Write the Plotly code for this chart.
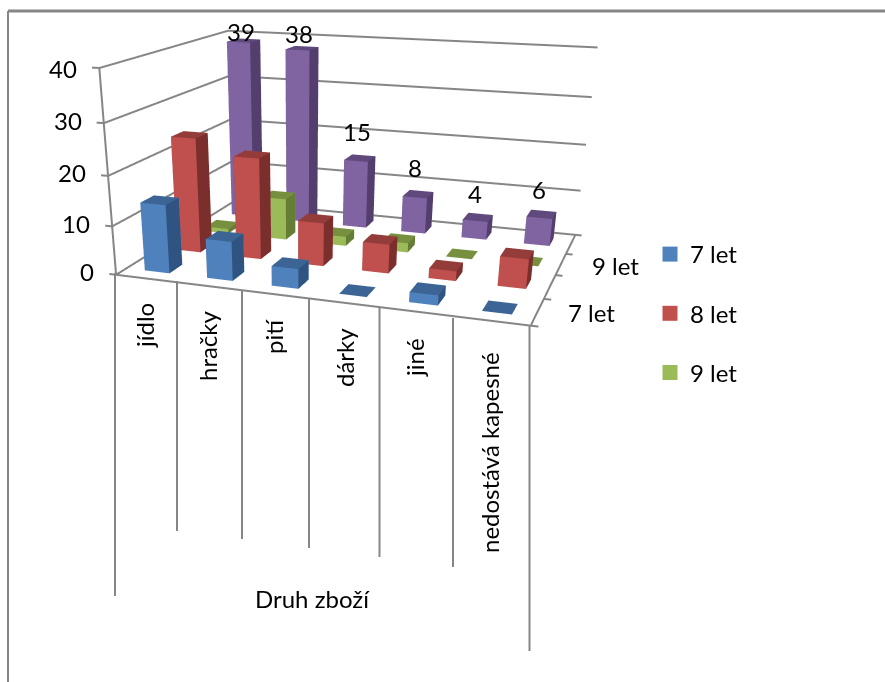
import numpy as np
import plotly.graph_objects as go

CATEGORIES = ["jídlo", "hračky", "pití", "dárky", "jiné", "nedostává kapesné"]
LEGEND_NAMES = ["7 let", "8 let", "9 let"]
ROW_7 = [14, 8, 4, 0, 2, 0]
ROW_8 = [24, 21, 9, 6, 2, 6]
ROW_9 = [1, 9, 2, 2, 0, 0]
ROW_ALL = [39, 38, 15, 8, 4, 6]
Z_TICKS = [0, 10, 20, 30, 40]
AXIS_TITLE = "Druh zboží"

# The scene is taller than the page so that its field of view flattens the perspective;
# only the upper part of the figure is on screen.
W, H = 885, 682
FIG_H = 908
SCENE_W = 600
RX, RY, RZ = (-0.4, 6.4), (-0.4, 4.4), (-2, 42)

EYE = np.array([0.8365, -2.7598, 0.6442])
YAW, PITCH = -0.3487, 0.4826
ASPECT = dict(x=1.2, y=0.9174, z=0.5555)
VIEW = np.array([np.cos(PITCH)*np.sin(YAW), np.cos(PITCH)*np.cos(YAW), -np.sin(PITCH)])
CENTER = EYE + VIEW*np.linalg.norm(EYE)


def px(x, y):
    return dict(x=x/W, y=1-y/FIG_H, xref="paper", yref="paper")


FONT = dict(family="Lato", size=24, color="#000000")
GRID = "#868686"


def bar_mesh(values, row, main, top, side, name):
    xs, ys, zs, I, J, K, colors = [], [], [], [], [], [], []
    for c, v in enumerate(values):
        n = len(xs)
        x0, x1, y0, y1 = c+0.3, c+0.7, row+0.3, row+0.7
        for (a, b, h) in [(x0, y0, 0), (x1, y0, 0), (x1, y1, 0), (x0, y1, 0),
                          (x0, y0, v), (x1, y0, v), (x1, y1, v), (x0, y1, v)]:
            xs.append(a); ys.append(b); zs.append(h)
        faces = [((0, 1, 5), main), ((0, 5, 4), main), ((1, 2, 6), side), ((1, 6, 5), side),
                 ((4, 5, 6), top), ((4, 6, 7), top), ((3, 0, 4), side), ((3, 4, 7), side),
                 ((2, 3, 7), main), ((2, 7, 6), main)]
        if v == 0:
            faces = [((4, 5, 6), top), ((4, 6, 7), top)]
        for (f, col) in faces:
            I.append(n+f[0]); J.append(n+f[1]); K.append(n+f[2]); colors.append(col)
    return go.Mesh3d(x=xs, y=ys, z=zs, i=I, j=J, k=K, facecolor=colors, flatshading=True, name=name,
                     lighting=dict(ambient=1, diffuse=0, specular=0, fresnel=0, roughness=1),
                     hoverinfo="skip", showscale=False, showlegend=False)


fig = go.Figure()
fig.add_trace(bar_mesh(ROW_7, 0, "#4F81BD", "#3C6494", "#2F5481", LEGEND_NAMES[0]))
fig.add_trace(bar_mesh(ROW_8, 1, "#C0504D", "#943C3A", "#7B2F2D", LEGEND_NAMES[1]))
fig.add_trace(bar_mesh(ROW_9, 2, "#9BBB59", "#76903F", "#667D36", LEGEND_NAMES[2]))
fig.add_trace(bar_mesh(ROW_ALL, 3, "#8064A2", "#60497C", "#533E6D", "celkem"))

# walls, floor edges and axis ticks
lx, ly, lz = [], [], []


def seg(a, b):
    lx.extend([a[0], b[0], None]); ly.extend([a[1], b[1], None]); lz.extend([a[2], b[2], None])


for z in Z_TICKS:
    seg((-0.11, 0, z), (0, 0, z)); seg((0, 0, z), (0, 4, z)); seg((0, 4, z), (6, 4, z))
seg((0, 0, 0), (0, 0, Z_TICKS[-1]))
seg((0, 0, 0), (6, 0, 0)); seg((6, 0, 0), (6, 4, 0))
for r_ in range(5):
    seg((6, r_, 0), (6.1, r_, 0))
fig.add_trace(go.Scatter3d(x=lx, y=ly, z=lz, mode="lines", line=dict(color=GRID, width=4),
                           hoverinfo="skip", showlegend=False))

for name, col in zip(LEGEND_NAMES, ["#4F81BD", "#C0504D", "#9BBB59"]):
    fig.add_trace(go.Scatter(x=[None], y=[None], mode="markers", name=name, legendgroup=name,
                             marker=dict(symbol="square", size=15, color=col)))

scene_ann = []
for z in Z_TICKS:
    scene_ann.append(dict(x=0, y=0, z=z, text=str(z), showarrow=False, xanchor="right", xshift=-20,
                          yshift=0 if z == Z_TICKS[-1] else 3, font=FONT))
for row, label in [(0.5, "7 let"), (2.5, "9 let")]:
    scene_ann.append(dict(x=6, y=row, z=0, text=label, showarrow=False, xanchor="left", xshift=29,
                          yshift=-1, font=FONT))
LABEL_LIFT = [-7, -2, 10, 10, 7, 8]
for c, v in enumerate(ROW_ALL):
    scene_ann.append(dict(x=c+0.5, y=3.5, z=v, text=str(v), showarrow=False, yanchor="bottom",
                          xshift=-3, yshift=LABEL_LIFT[c], font=FONT))

LABEL_POS = [(144, 326), (208, 346), (274, 337), (344, 358), (414, 358), (489, 452)]
ann = [dict(text=t, showarrow=False, textangle=-90, xanchor="center", yanchor="middle", font=FONT, **px(*pos))
       for t, pos in zip(CATEGORIES, LABEL_POS)]
ann.append(dict(text=AXIS_TITLE, showarrow=False, xanchor="center", yanchor="middle", font=FONT, **px(312, 598)))


def vline(x, y0, y1):
    return dict(type="line", xref="paper", yref="paper", x0=x/W, x1=x/W, y0=1-y0/FIG_H, y1=1-y1/FIG_H,
                line=dict(color=GRID, width=2))


DROPS = [(115, 273, 596), (177, 281, 531), (242, 290, 539), (309, 299, 548),
         (379.5, 308, 557), (453, 318, 567), (529.5, 326, 651)]
shapes = [vline(*d) for d in DROPS]
shapes.append(vline(8, 11, FIG_H))
shapes.append(dict(type="line", xref="paper", yref="paper", x0=8/W, x1=1, y0=1-11/FIG_H, y1=1-11/FIG_H,
                   line=dict(color=GRID, width=3)))

hidden = dict(visible=False, showgrid=False, zeroline=False, showline=False, showticklabels=False,
              showbackground=False, showspikes=False, title="")
fig.update_layout(
    width=W, height=FIG_H, margin=dict(l=0, r=0, t=0, b=0), paper_bgcolor="white", plot_bgcolor="white",
    xaxis=dict(visible=False), yaxis=dict(visible=False),
    showlegend=True,
    legend=dict(x=650/W, xanchor="left", y=1-232/FIG_H, yanchor="top", font=FONT, tracegroupgap=25,
                bgcolor="rgba(0,0,0,0)"),
    annotations=ann, shapes=shapes,
    scene=dict(
        domain=dict(x=[0, SCENE_W/W], y=[0, 1]),
        xaxis=dict(range=RX, **hidden), yaxis=dict(range=RY, **hidden), zaxis=dict(range=RZ, **hidden),
        aspectmode="manual", aspectratio=ASPECT,
        camera=dict(eye=dict(x=EYE[0], y=EYE[1], z=EYE[2]),
                    center=dict(x=CENTER[0], y=CENTER[1], z=CENTER[2]),
                    up=dict(x=0, y=0, z=1), projection=dict(type="perspective")),
        annotations=scene_ann, bgcolor="rgba(0,0,0,0)",
    ),
)
fig.write_html("out.html", post_script="document.documentElement.style.overflow='hidden';document.body.style.overflow='hidden';")
